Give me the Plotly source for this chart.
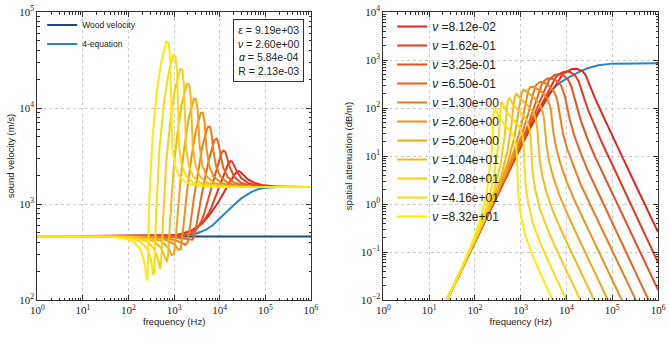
import plotly.graph_objects as go

# ---------------- data ----------------
nu_labels = ["8.12e-02", "1.62e-01", "3.25e-01", "6.50e-01", "1.30e+00", "2.60e+00",
             "5.20e+00", "1.04e+01", "2.08e+01", "4.16e+01", "8.32e+01"]

x_tick_vals = [1, 10, 100, 1000, 10000, 100000, 1000000]
x_tick_text = ["10<sup>0</sup>", "10<sup>1</sup>", "10<sup>2</sup>", "10<sup>3</sup>",
               "10<sup>4</sup>", "10<sup>5</sup>", "10<sup>6</sup>"]
vel_tick_vals = [100, 1000, 10000, 100000]
vel_tick_text = ["10<sup>2</sup>", "10<sup>3</sup>", "10<sup>4</sup>", "10<sup>5</sup>"]
att_tick_vals = [0.01, 0.1, 1, 10, 100, 1000, 10000]
att_tick_text = ["10<sup>\u22122</sup>", "10<sup>\u22121</sup>", "10<sup>0</sup>", "10<sup>1</sup>",
                 "10<sup>2</sup>", "10<sup>3</sup>", "10<sup>4</sup>"]

# wood velocity and 4-equation model (left), 4-equation attenuation (right)
wood_f = [1, 1000000]
wood_v = [460, 460]
four_eq_f = [1, 1000, 2000, 3000, 5000, 7000, 10000, 15000, 20000, 30000, 50000, 70000,
             100000, 200000, 1000000]
four_eq_v = [460, 462, 470, 490, 540, 600, 700, 850, 970, 1150, 1340, 1430, 1480, 1502, 1505]
four_eq_att_f = [10, 100, 300, 1000, 2000, 3000, 5000, 7000, 10000, 15000, 20000, 30000,
                 50000, 100000, 200000, 1000000]
four_eq_att = [0.00167, 0.167, 1.5, 16.5, 62, 125, 250, 330, 410, 500, 580, 680, 780, 840,
               855, 860]

# ---- sound velocity curves (m/s), one per nu (index 0 = smallest nu, red) ----
vel_f_0 = [1, 1248, 2496, 4160, 5824, 7072, 7904, 8320, 9152, 10816, 13312, 16640, 21632, 24128,
           26208, 27456, 29120, 33280, 41600, 58240, 83200, 166400, 499200, 1000000]
vel_v_0 = [460, 475, 535, 630, 760, 860, 930, 960, 1030, 1180, 1410, 1700, 2050, 2170,
           2200, 2180, 2130, 2000, 1800, 1660, 1580, 1518, 1502, 1500]
vel_f_1 = [1, 882, 1765, 2942, 4118, 5001, 5589, 5883, 6471, 7648, 9413, 11766, 15296, 17061,
           18531, 19414, 20591, 23532, 29415, 41181, 58830, 117660, 352980, 1000000]
vel_v_1 = [460, 468, 498, 550, 632, 718, 783, 820, 908, 1113, 1464, 1956, 2640, 2795,
           2775, 2682, 2528, 2191, 1859, 1660, 1578, 1518, 1502, 1500]
vel_f_2 = [1, 624, 1248, 2080, 2912, 3536, 3952, 4160, 4576, 5408, 6656, 8320, 10816, 12064,
           13104, 13728, 14560, 16640, 20800, 29120, 41600, 83200, 249600, 1000000]
vel_v_2 = [460, 462, 463, 480, 525, 600, 660, 700, 800, 1050, 1520, 2250, 3400, 3600,
           3500, 3300, 3000, 2400, 1920, 1660, 1577, 1518, 1502, 1500]
vel_f_3 = [1, 441, 883, 1471, 2059, 2501, 2795, 2942, 3236, 3825, 4707, 5884, 7649, 8532,
           9267, 9709, 10297, 11768, 14710, 20594, 29420, 58840, 176520, 1000000]
vel_v_3 = [460, 459, 452, 440, 428, 425, 460, 540, 700, 1099, 1829, 3000, 4630, 4800,
           4390, 3850, 3240, 2425, 1922, 1668, 1578, 1518, 1502, 1500]
vel_f_4 = [1, 312, 624, 1040, 1456, 1768, 1976, 2080, 2288, 2704, 3328, 4160, 5408, 6032,
           6552, 6864, 7280, 8320, 10400, 14560, 20800, 41600, 124800, 1000000]
vel_v_4 = [460, 457, 446, 420, 395, 375, 400, 460, 640, 1150, 2200, 4000, 6300, 6400,
           5500, 4500, 3500, 2450, 1925, 1676, 1579, 1518, 1502, 1500]
vel_f_5 = [1, 221, 441, 736, 1030, 1250, 1397, 1471, 1618, 1912, 2354, 2942, 3825, 4266,
           4634, 4854, 5149, 5884, 7355, 10297, 14710, 29420, 88260, 1000000]
vel_v_5 = [460, 456, 444, 417, 377, 333, 340, 411, 624, 1356, 2930, 5590, 8870, 8910,
           7230, 5280, 3700, 2475, 1930, 1677, 1579, 1518, 1502, 1500]
vel_f_6 = [1, 156, 312, 520, 728, 884, 988, 1040, 1144, 1352, 1664, 2080, 2704, 3016,
           3276, 3432, 3640, 4160, 5200, 7280, 10400, 20800, 62400, 1000000]
vel_v_6 = [460, 456, 443, 410, 355, 295, 300, 360, 600, 1600, 3900, 7800, 12500, 12400,
           9500, 6200, 3900, 2500, 1935, 1678, 1579, 1518, 1502, 1500]
vel_f_7 = [1, 110, 220, 368, 515, 625, 698, 735, 809, 956, 1176, 1470, 1911, 2132,
           2315, 2426, 2573, 2940, 3675, 5145, 7350, 14700, 44100, 1000000]
vel_v_7 = [460, 455, 442, 407, 348, 275, 248, 300, 648, 2150, 5400, 11000, 17900, 17600,
           12900, 6820, 3900, 2500, 1936, 1678, 1579, 1518, 1502, 1500]
vel_f_8 = [1, 78, 156, 260, 364, 442, 494, 520, 572, 676, 832, 1040, 1352, 1508,
           1638, 1716, 1820, 2080, 2600, 3640, 5200, 10400, 31200, 1000000]
vel_v_8 = [460, 455, 442, 405, 342, 265, 212, 250, 700, 2900, 7500, 15500, 25500, 25000,
           17500, 7500, 3900, 2500, 1938, 1678, 1579, 1518, 1502, 1500]
vel_f_9 = [1, 55, 110, 184, 258, 313, 350, 368, 405, 478, 589, 736, 957, 1067,
           1159, 1214, 1288, 1472, 1840, 2576, 3680, 7360, 22080, 1000000]
vel_v_9 = [460, 455, 441, 404, 339, 258, 182, 195, 897, 3880, 10600, 21600, 35700, 34300,
           24000, 7940, 3900, 2500, 1939, 1678, 1580, 1518, 1502, 1500]
vel_f_10 = [1, 39, 78, 130, 182, 221, 247, 260, 286, 338, 416, 520, 676, 754,
            819, 858, 910, 1040, 1300, 1820, 2600, 5200, 15600, 1000000]
vel_v_10 = [460, 455, 441, 403, 336, 251, 175, 160, 1150, 5200, 15000, 30000, 50000, 47000,
            33000, 8400, 3900, 2500, 1940, 1680, 1580, 1518, 1502, 1500]

# ---- spatial attenuation curves (dB/m) ----
att_f_0 = [10, 832, 2496, 4160, 5824, 7072, 7904, 8320, 9152, 10816, 13312, 16640, 21632,
           24960, 26208, 27456, 29120, 33280, 41600, 58240, 83200, 166400, 332800, 1000000]
att_a_0 = [0.00167, 11.15, 83, 187, 297, 400, 472, 510, 546, 601, 651, 658, 595,
           520, 483, 436, 375, 269, 162, 80, 38, 9.44, 2.34, 0.26]
att_f_1 = [10, 588, 1765, 2942, 4118, 5001, 5589, 5883, 6471, 7648, 9413, 11766, 15296,
           17649, 18531, 19414, 20591, 23532, 29415, 41181, 58830, 117660, 235320, 1000000]
att_a_1 = [0.00167, 5.69, 47.2, 123.8, 226.7, 328, 403, 443, 479, 538, 575, 567, 484,
           396, 356, 308, 252.5, 174.3, 92.7, 42, 19.3, 4.76, 1.17, 0.0603]
att_f_2 = [10, 416, 1248, 2080, 2912, 3536, 3952, 4160, 4576, 5408, 6656, 8320, 10816,
           12480, 13104, 13728, 14560, 16640, 20800, 29120, 41600, 83200, 166400, 1000000]
att_a_2 = [0.00167, 2.9, 26.8, 82, 173, 269, 344, 385, 420, 481, 508, 489, 393,
           301, 262, 218, 170, 113, 53, 22, 9.84, 2.4, 0.585, 0.0162]
att_f_3 = [10, 294, 883, 1471, 2059, 2501, 2795, 2942, 3236, 3825, 4707, 5884, 7649,
           8826, 9267, 9709, 10297, 11768, 14710, 20594, 29420, 58840, 117680, 235360, 1000000]
att_a_3 = [0.00167, 1.465, 13.9, 46.4, 114.7, 208.8, 288, 329, 364, 411, 411, 377, 292,
           212, 176.6, 138.5, 100, 58.2, 27, 11.2, 4.92, 1.213, 0.299, 0.0748, 0.00377]
att_f_4 = [10, 208, 624, 1040, 1456, 1768, 1976, 2080, 2288, 2704, 3328, 4160, 5408,
           6240, 6552, 6864, 7280, 8320, 10400, 14560, 20800, 41600, 83200, 166400, 332800]
att_a_4 = [0.00167, 0.74, 7.24, 26.3, 76, 162, 241, 281, 316, 351, 332, 291, 217,
           150, 119, 88, 59, 30, 13.8, 5.7, 2.46, 0.613, 0.153, 0.038, 0.0096]
att_f_5 = [10, 147, 441, 736, 1030, 1250, 1397, 1471, 1618, 1912, 2354, 2942, 3825,
           4413, 4634, 4854, 5149, 5884, 7355, 10297, 14710, 29420, 58840, 117680, 235360]
att_a_5 = [0.00167, 0.369, 3.65, 13.7, 43.2, 109.5, 192.7, 238, 275, 278, 248, 212, 156,
           104.6, 78.7, 52.2, 31.9, 15.4, 6.95, 2.79, 1.24, 0.303, 0.0752, 0.0188, 0.0047]
att_f_6 = [10, 104, 312, 520, 728, 884, 988, 1040, 1144, 1352, 1664, 2080, 2704,
           3120, 3276, 3432, 3640, 4160, 5200, 7280, 10400, 20800, 41600, 83200]
att_a_6 = [0.00167, 0.184, 1.84, 7.1, 24.6, 74, 154, 202, 240, 220, 185, 154, 112,
           73, 52, 31, 17.3, 7.9, 3.5, 1.37, 0.626, 0.15, 0.037, 0.0093]
att_f_7 = [10, 73.5, 220, 368, 515, 625, 698, 735, 809, 956, 1176, 1470, 1911,
           2205, 2315, 2426, 2573, 2940, 3675, 5145, 7350, 14700, 29400, 58800]
att_a_7 = [0.00167, 0.092, 0.93, 3.59, 12.8, 42.9, 113.7, 170.6, 196, 162.5, 132.6, 109.6, 79.2,
           51.3, 35.3, 17.8, 8.87, 3.97, 1.68, 0.682, 0.309, 0.0749, 0.01855, 0.0046]
att_f_8 = [10, 52, 156, 260, 364, 442, 494, 520, 572, 676, 832, 1040, 1352,
           1560, 1638, 1716, 1820, 2080, 2600, 3640, 5200, 10400, 20800]
att_a_8 = [0.00167, 0.046, 0.47, 1.82, 6.7, 24.9, 84, 144, 160, 120, 95, 78, 56,
           36, 24, 10.2, 4.55, 2.0, 0.81, 0.34, 0.153, 0.0374, 0.0093]
att_f_9 = [10, 36.8, 110, 184, 258, 313, 350, 368, 386, 405, 478, 589, 736, 957,
           1104, 1159, 1214, 1288, 1472, 1840, 2576, 3680, 7360, 14720]
att_a_9 = [0.00167, 0.0228, 0.234, 0.912, 3.39, 13.1, 53.9, 118, 135, 125, 85.6, 67.5, 55.2, 39.6,
           25.5, 16.8, 5.53, 2.29, 1.0, 0.402, 0.17, 0.0763, 0.0186, 0.0046]
att_f_10 = [10, 26, 78, 130, 182, 221, 234, 247, 260, 273, 286, 338, 416, 520, 676,
            780, 819, 858, 910, 1040, 1300, 1820, 2600, 5200, 10400]
att_a_10 = [0.00167, 0.0113, 0.116, 0.457, 1.71, 6.9, 13.6, 34.6, 102, 110, 92, 61, 48, 39, 28,
            18, 11.7, 3.0, 1.15, 0.50, 0.20, 0.085, 0.038, 0.0093, 0.0023]

vel_f = [vel_f_0, vel_f_1, vel_f_2, vel_f_3, vel_f_4, vel_f_5, vel_f_6, vel_f_7, vel_f_8, vel_f_9, vel_f_10]
vel_v = [vel_v_0, vel_v_1, vel_v_2, vel_v_3, vel_v_4, vel_v_5, vel_v_6, vel_v_7, vel_v_8, vel_v_9, vel_v_10]
att_f = [att_f_0, att_f_1, att_f_2, att_f_3, att_f_4, att_f_5, att_f_6, att_f_7, att_f_8, att_f_9, att_f_10]
att_a = [att_a_0, att_a_1, att_a_2, att_a_3, att_a_4, att_a_5, att_a_6, att_a_7, att_a_8, att_a_9, att_a_10]

# ---------------- style ----------------
curve_colors = ["#e4231e", "#e6381d", "#e84d1c", "#ea621b", "#ed7a1c", "#f0901c",
                "#f3a51a", "#f6ba17", "#f9cd14", "#fcdc10", "#ffe80a"]
wood_color = "#1f4b7c"
four_color = "#2a84c6"
tick_font = dict(family="Liberation Serif, DejaVu Serif, serif", size=11, color="#222")
label_font = dict(family="Liberation Sans, Arial, sans-serif", size=9.5, color="#222")

fig = go.Figure()

fig.add_trace(go.Scatter(x=wood_f, y=wood_v, mode="lines", name="Wood velocity",
                         line=dict(color=wood_color, width=2), xaxis="x", yaxis="y", legend="legend"))
fig.add_trace(go.Scatter(x=four_eq_f, y=four_eq_v, mode="lines", name="4-equation",
                         line=dict(color=four_color, width=2), xaxis="x", yaxis="y", legend="legend"))
fig.add_trace(go.Scatter(x=four_eq_att_f, y=four_eq_att, mode="lines", name="4-equation",
                         line=dict(color=four_color, width=2), xaxis="x2", yaxis="y2",
                         showlegend=False))

for i in range(len(nu_labels)):
    fig.add_trace(go.Scatter(x=vel_f[i], y=vel_v[i], mode="lines", showlegend=False,
                             line=dict(color=curve_colors[i], width=2), xaxis="x", yaxis="y"))
    fig.add_trace(go.Scatter(x=att_f[i], y=att_a[i], mode="lines",
                             name="<i>\u03bd</i> =" + nu_labels[i],
                             line=dict(color=curve_colors[i], width=2), xaxis="x2", yaxis="y2",
                             legend="legend2"))

axis_common = dict(type="log", showline=True, linecolor="#333", linewidth=1, mirror="allticks",
                   ticks="inside", ticklen=5, tickcolor="#333", showgrid=True,
                   gridcolor="#cccccc", griddash="dot", gridwidth=1, zeroline=False,
                   tickfont=tick_font, tickmode="array",
                   minor=dict(ticks="inside", ticklen=2.5, tickcolor="#333", showgrid=False,
                              dtick="D1"))

fig.update_layout(
    width=669, height=344, autosize=False,
    margin=dict(l=0, r=0, t=12, b=44),
    paper_bgcolor="white", plot_bgcolor="white",
    hovermode=False,
    xaxis=dict(axis_common, domain=[31 / 669, 311 / 669], range=[0, 6],
               tickvals=x_tick_vals, ticktext=x_tick_text,
               title=dict(text="frequency (Hz)", font=label_font, standoff=3)),
    yaxis=dict(axis_common, range=[2, 5], tickvals=vel_tick_vals, ticktext=vel_tick_text,
               title=dict(text="sound velocity (m/s)", font=label_font, standoff=2)),
    xaxis2=dict(axis_common, domain=[385 / 669, 666 / 669], range=[0, 6],
                tickvals=x_tick_vals, ticktext=x_tick_text, anchor="y2",
                title=dict(text="frequency (Hz)", font=label_font, standoff=3)),
    yaxis2=dict(axis_common, range=[-2, 4], tickvals=att_tick_vals, ticktext=att_tick_text,
                anchor="x2",
                title=dict(text="spatial attenuation (dB/m)", font=label_font, standoff=6)),
    legend=dict(x=36 / 669, y=1.005, xanchor="left", yanchor="top", bgcolor="rgba(0,0,0,0)",
                font=dict(family="Liberation Sans, Arial, sans-serif", size=8.5, color="#222"),
                tracegroupgap=0),
    legend2=dict(x=394 / 669, y=1.0, xanchor="left", yanchor="top", bgcolor="rgba(0,0,0,0)",
                 font=dict(family="Liberation Sans, Arial, sans-serif", size=12, color="#222"),
                 tracegroupgap=0),
    annotations=[dict(
        text="<i>\u03b5</i> = 9.19e+03<br><i>\u03bd</i> = 2.60e+00<br><i>\u03b1</i> = 5.84e-04<br>R = 2.13e-03",
        xref="x domain", yref="y domain", x=0.846, y=0.866, showarrow=False,
        xanchor="center", yanchor="middle", align="center",
        font=dict(family="Liberation Sans, Arial, sans-serif", size=10.5, color="#222"),
        bordercolor="#333", borderwidth=1, borderpad=4, bgcolor="white")],
)

fig.write_html("out.html", config={"displayModeBar": False})
